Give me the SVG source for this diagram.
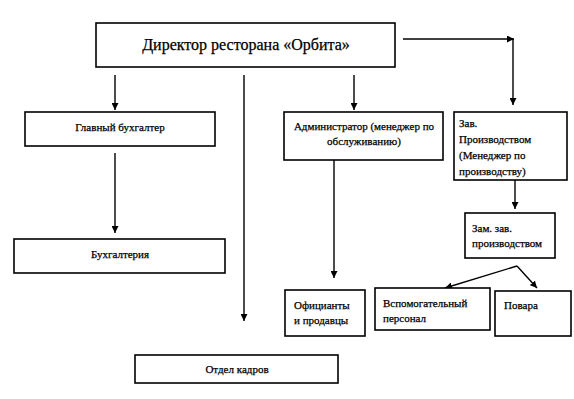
<svg xmlns="http://www.w3.org/2000/svg" width="574" height="399" viewBox="0 0 574 399">
<style>
.box{fill:#fff;stroke:#000;stroke-width:1.6}
.t{font-family:"Liberation Serif","Times New Roman",serif;font-size:11px;fill:#000;stroke:#000;stroke-width:0.25}
.big{font-size:16px}
.c{text-anchor:middle}
.ln{stroke:#000;stroke-width:1.4;fill:none}
</style>
<defs>
<marker id="ah" viewBox="0 0 10 10" refX="10" refY="5" markerWidth="7" markerHeight="7" markerUnits="userSpaceOnUse" orient="auto">
<path d="M0,0 L10,5 L0,10 z" fill="#000"/>
</marker>
</defs>
<rect width="574" height="399" fill="#fff"/>
<g id="connectors">
<line class="ln" x1="115" y1="75" x2="115" y2="110" marker-end="url(#ah)"/>
<line class="ln" x1="244" y1="75" x2="244" y2="321" marker-end="url(#ah)"/>
<line class="ln" x1="354" y1="75" x2="354" y2="110" marker-end="url(#ah)"/>
<line class="ln" x1="403" y1="39" x2="514" y2="39" marker-end="url(#ah)"/>
<line class="ln" x1="513" y1="39" x2="513" y2="105" marker-end="url(#ah)"/>
<line class="ln" x1="115" y1="153" x2="115" y2="233" marker-end="url(#ah)"/>
<line class="ln" x1="334" y1="160" x2="334" y2="278" marker-end="url(#ah)"/>
<line class="ln" x1="515" y1="180" x2="515" y2="209" marker-end="url(#ah)"/>
<line class="ln" x1="517" y1="266" x2="445" y2="288" marker-end="url(#ah)"/>
<line class="ln" x1="517" y1="266" x2="537" y2="288" marker-end="url(#ah)"/>
</g>
<g id="director">
<rect class="box" x="96" y="23" width="299" height="44" stroke-width="2"/>
<text class="t c big" x="246" y="50">Директор ресторана «Орбита»</text>
</g>
<g id="glavny">
<rect class="box" x="25" y="112" width="190" height="34"/>
<text class="t c" x="120" y="131">Главный бухгалтер</text>
</g>
<g id="buhgalteria">
<rect class="box" x="14" y="239" width="211" height="34"/>
<text class="t c" x="120" y="258">Бухгалтерия</text>
</g>
<g id="admin">
<rect class="box" x="284" y="112" width="159" height="48"/>
<text class="t c" x="364" y="130">Администратор (менеджер по</text>
<text class="t c" x="364" y="145">обслуживанию)</text>
</g>
<g id="zav">
<rect class="box" x="454" y="112" width="113" height="68"/>
<text class="t" x="459" y="127">Зав.</text>
<text class="t" x="459" y="143">Производством</text>
<text class="t" x="459" y="159">(Менеджер по</text>
<text class="t" x="459" y="175">производству)</text>
</g>
<g id="zam">
<rect class="box" x="465" y="213" width="90" height="45"/>
<text class="t" x="472" y="232">Зам. зав.</text>
<text class="t" x="472" y="247">производством</text>
</g>
<g id="oficianty">
<rect class="box" x="285" y="290" width="80" height="46"/>
<text class="t" x="294" y="309">Официанты</text>
<text class="t" x="294" y="324">и продавцы</text>
</g>
<g id="vspom">
<rect class="box" x="375" y="288" width="115" height="42"/>
<text class="t" x="383" y="307">Вспомогательный</text>
<text class="t" x="383" y="322">персонал</text>
</g>
<g id="povara">
<rect class="box" x="495" y="291" width="76" height="45"/>
<text class="t" x="504" y="309">Повара</text>
</g>
<g id="otdel">
<rect class="box" x="135" y="355" width="203" height="28"/>
<text class="t c" x="237" y="373">Отдел кадров</text>
</g>
</svg>
